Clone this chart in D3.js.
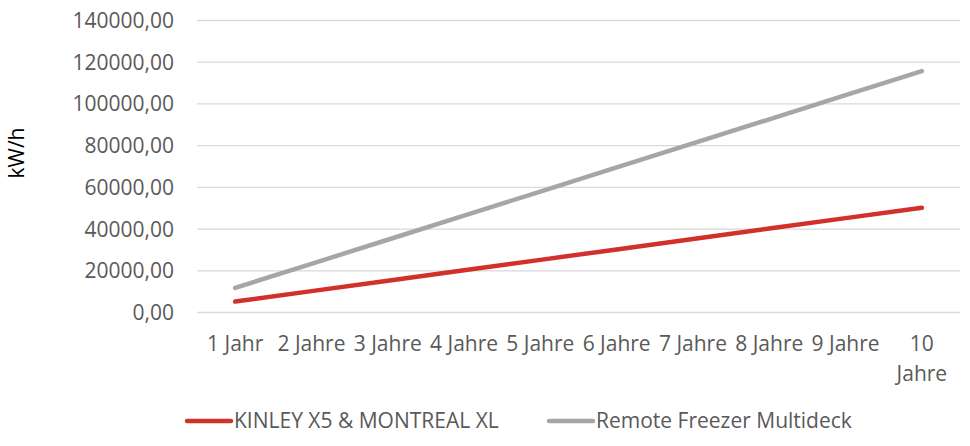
<!DOCTYPE html>
<html><head><meta charset="utf-8">
<script src="https://cdn.jsdelivr.net/npm/d3@7"></script>
<style>body{margin:0;background:#fff;}svg{display:block;font-family:"Open Sans",sans-serif;}</style>
</head><body>
<svg id="chart" width="970" height="446"></svg>
<script>
const categories = ["1 Jahr","2 Jahre","3 Jahre","4 Jahre","5 Jahre","6 Jahre","7 Jahre","8 Jahre","9 Jahre","10 Jahre"];
const kinleyValues = [5000,10000,15000,20000,25000,30000,35000,40000,45000,50000];
const remoteValues = [11550,23100,34650,46200,57750,69300,80850,92400,103950,115500];
const seriesNames = ["KINLEY X5 & MONTREAL XL","Remote Freezer Multideck"];
const yTicks = [0,20000,40000,60000,80000,100000,120000,140000];

const svg = d3.select("#chart");
const m = {left:197, right:10, top:20, bottom:134};
const W = 970, H = 446;
const FS = "21px";
const x = d3.scaleBand().domain(categories).range([m.left, W - m.right]);
const y = d3.scaleLinear().domain([0,140000]).range([H - m.bottom, m.top]);
const fmt = v => d3.format(".2f")(v).replace(".", ",");

// gridlines + y labels
const yAxis = d3.axisLeft(y).tickValues(yTicks).tickSize(-(W - m.left - m.right)).tickFormat(fmt).tickPadding(23);
const gy = svg.append("g").attr("transform", `translate(${m.left},0)`).call(yAxis);
gy.select(".domain").remove();
gy.selectAll(".tick line").attr("stroke","#d9d9d9").attr("stroke-width",1.3);
gy.selectAll(".tick text").attr("fill","#595959").attr("font-family","Open Sans").attr("font-size",FS).attr("dy","0.36em");

// x axis labels
const xAxis = d3.axisBottom(x).tickSize(0).tickPadding(0);
const gx = svg.append("g").attr("transform", `translate(0,${H - m.bottom})`).call(xAxis);
gx.select(".domain").remove();
gx.selectAll(".tick text").attr("fill","#595959").attr("font-family","Open Sans").attr("font-size",FS)
  .attr("y",39).attr("dy",0)
  .each(function(d){
    const t = d3.select(this);
    if (this.getComputedTextLength() > x.bandwidth()) {
      const words = d.split(" ");
      t.text(null);
      words.forEach((w,i)=>{
        t.append("tspan").attr("x",0).attr("y", 39 + i*30).text(w);
      });
    }
  });

// y title
svg.append("text").attr("transform","translate(24,153) rotate(-90)").attr("text-anchor","middle")
  .attr("font-size","21px").attr("fill","#000").text("kW/h");

// lines
const line = d3.line().x((d,i)=>x(categories[i]) + x.bandwidth()/2).y(d=>y(d));
const colors = ["#d2302b","#a6a6a6"];
[kinleyValues, remoteValues].forEach((vals,i)=>{
  svg.append("path").datum(vals).attr("d", line).attr("fill","none")
    .attr("stroke", colors[i]).attr("stroke-width",4.5).attr("stroke-linecap","round");
});

// legend
const legendX = [187, 549];
seriesNames.forEach((n,i)=>{
  const g = svg.append("g").attr("transform", `translate(${legendX[i]},421)`);
  g.append("line").attr("x1",0).attr("x2",44).attr("stroke",colors[i]).attr("stroke-width",4.5).attr("stroke-linecap","round");
  g.append("text").attr("x",47).attr("dy","0.35em").attr("fill","#595959").attr("font-size",FS).text(n);
});
</script>
</body></html>
